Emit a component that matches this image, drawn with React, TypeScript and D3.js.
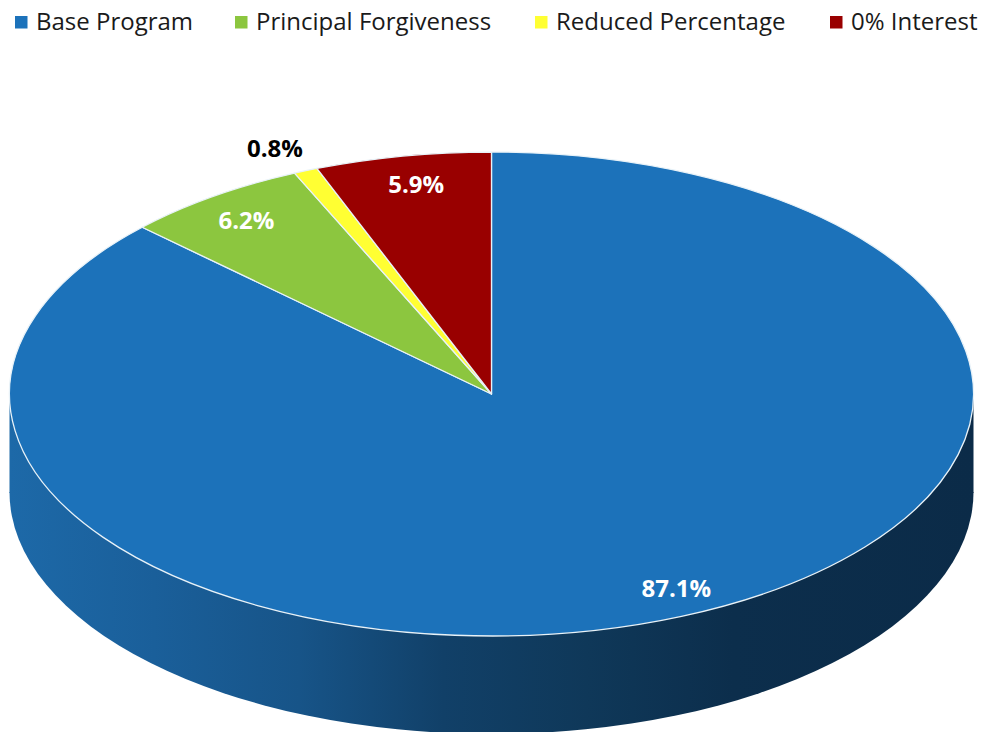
import * as d3 from "d3";

const CATEGORIES = ["Base Program", "Principal Forgiveness", "Reduced Percentage", "0% Interest"];
const SHARES = [87.1, 6.2, 0.8, 5.9];
const COLORS = ["#1c72ba", "#8cc63f", "#ffff33", "#990000"];
const LABEL_COLORS = ["#ffffff", "#ffffff", "#000000", "#ffffff"];

// layout
const WIDTH = 995;
const HEIGHT = 732;
const CX = 491.5;
const CY = 394;
const RX = 482;
const SQUASH = 0.502;
const DEPTH = 98;
const LEGEND_SWATCH_X = [15, 235, 535, 830];
const LABEL_RADIUS = [0.89, 0.88, 1.11, 0.88];
const LABEL_ANGLE_SHIFT = [-2.3, 0, -1.2, 0.4];
const FONT = "'Open Sans', sans-serif";

const SIDE_STOPS: [number, string][] = [
  [0, "#1d69a8"],
  [0.15, "#1a5f9a"],
  [0.3, "#175488"],
  [0.45, "#114068"],
  [0.6, "#0f3859"],
  [0.75, "#0c2e4c"],
  [1, "#0b2b48"],
];

export default function App() {
  // same order as the source chart: clockwise from 12 o'clock
  const slices = d3.pie<number>().sort(null)(SHARES);
  const arc = d3.arc<d3.PieArcDatum<number>>().innerRadius(0).outerRadius(RX);
  const rim = d3.arc<any>().innerRadius(0).outerRadius(RX)({
    startAngle: Math.PI / 2,
    endAngle: (3 * Math.PI) / 2,
  });

  const labelPoint = (d: d3.PieArcDatum<number>, i: number) => {
    const mid = (d.startAngle + d.endAngle) / 2 + (LABEL_ANGLE_SHIFT[i] * Math.PI) / 180;
    const r = RX * LABEL_RADIUS[i];
    return [CX + r * Math.sin(mid), CY - r * Math.cos(mid) * SQUASH];
  };

  return (
    <svg
      width={WIDTH}
      height={HEIGHT}
      style={{ position: "absolute", left: 0, top: 0, background: "#fff" }}
    >
      <defs>
        <linearGradient id="side" gradientUnits="userSpaceOnUse" x1={-RX} x2={RX} y1={0} y2={0}>
          {SIDE_STOPS.map(([o, c]) => (
            <stop key={o} offset={o} stopColor={c} />
          ))}
        </linearGradient>
      </defs>

      {/* Legend */}
      {CATEGORIES.map((c, i) => (
        <g key={c}>
          <rect x={LEGEND_SWATCH_X[i]} y={16} width={12.5} height={12.5} fill={COLORS[i]} />
          <text
            x={LEGEND_SWATCH_X[i] + 21}
            y={30}
            fontFamily={FONT}
            fontSize={24}
            fill="#1a1a1a"
          >
            {c}
          </text>
        </g>
      ))}

      {/* Side wall */}
      <g transform={`translate(${CX},${CY})`}>
        <rect x={-RX} y={0} width={RX * 2} height={DEPTH + 1} fill="url(#side)" />
      </g>
      <g transform={`translate(${CX},${CY + DEPTH}) scale(1,${SQUASH})`}>
        <path d={rim!} fill="url(#side)" />
      </g>

      {/* Top face */}
      <g transform={`translate(${CX},${CY}) scale(1,${SQUASH})`}>
        {slices.map((d, i) => (
          <path
            key={CATEGORIES[i]}
            d={arc(d)!}
            fill={COLORS[i]}
            stroke="#e8f2f8"
            strokeWidth={1.3}
            strokeLinejoin="round"
            style={{ vectorEffect: "non-scaling-stroke" }}
          />
        ))}
      </g>

      {/* Value labels */}
      {slices.map((d, i) => {
        const [x, y] = labelPoint(d, i);
        return (
          <text
            key={i}
            x={x}
            y={y}
            dy="0.35em"
            textAnchor="middle"
            fontFamily={FONT}
            fontWeight={700}
            fontSize={24}
            fill={LABEL_COLORS[i]}
          >
            {SHARES[i].toFixed(1)}%
          </text>
        );
      })}
    </svg>
  );
}
